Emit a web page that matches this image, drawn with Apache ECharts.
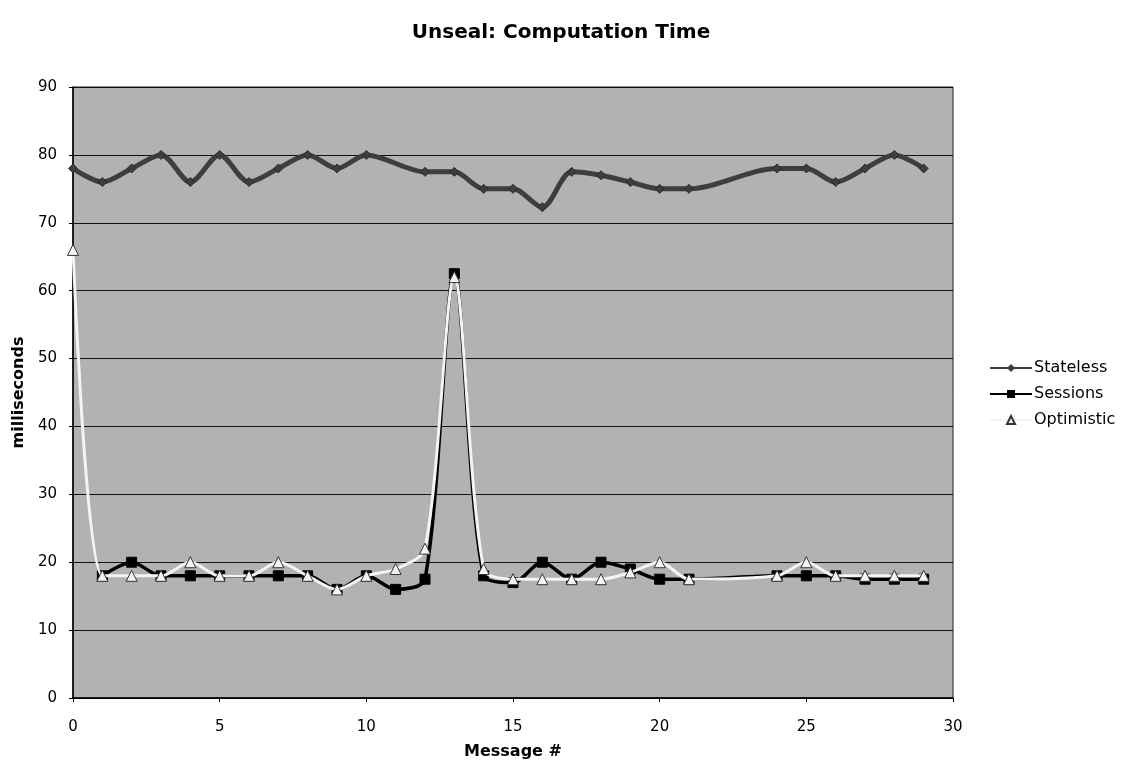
<!DOCTYPE html>
<html lang="en">
<head>
    <meta charset="UTF-8">
    <title>Unseal: Computation Time</title>
    <script src="https://cdn.jsdelivr.net/npm/echarts@6/dist/echarts.min.js"></script>
    <style>
        html, body { margin: 0; padding: 0; background: #fff; }
        #chart { width: 1122px; height: 769px; }
    </style>
</head>
<body>
<div id="chart"></div>
<script>
    // message numbers
    var messages = [0, 1, 2, 3, 4, 5, 6, 7, 8, 9, 10, 11, 12, 13, 14, 15, 16, 17, 18, 19, 20, 21, 22, 23, 24, 25, 26, 27, 28, 29];
    // milliseconds, null = no measurement
    var stateless  = [78, 76, 78, 80, 76, 80, 76, 78, 80, 78, 80, null, 77.5, 77.5, 75, 75, 72.3, 77.5, 77, 76, 75, 75, null, null, 78, 78, 76, 78, 80, 78];
    var sessions   = [null, 18, 20, 18, 18, 18, 18, 18, 18, 16, 18, 16, 17.5, 62.5, 18, 17, 20, 17.5, 20, 19, 17.5, 17.5, null, null, 18, 18, 18, 17.5, 17.5, 17.5];
    var optimistic = [66, 18, 18, 18, 20, 18, 18, 20, 18, 16, 18, 19, 22, 62, 19, 17.5, 17.5, 17.5, 17.5, 18.5, 20, 17.5, null, null, 18, 20, 18, 18, 18, 18];
    var seriesNames = ['Stateless', 'Sessions', 'Optimistic'];

    function pairs(values) {
        var out = [];
        for (var i = 0; i < messages.length; i++) {
            if (values[i] !== null) out.push([messages[i], values[i]]);
        }
        return out;
    }

    var font = 'DejaVu Sans';
    var myChart = echarts.init(document.getElementById('chart'));

    var option = {
        animation: false,
        backgroundColor: '#fff',
        title: {
            text: 'Unseal: Computation Time',
            left: 'center',
            top: 18,
            textStyle: { fontFamily: font, fontSize: 20, fontWeight: 'bold', color: '#000' }
        },
        legend: {
            orient: 'vertical',
            left: 984,
            top: 355,
            itemGap: 10,
            itemWidth: 42,
            itemHeight: 10,
            data: seriesNames,
            textStyle: { fontFamily: font, fontSize: 16, color: '#000', padding: [0, 0, 0, -3] }
        },
        grid: {
            left: 73,
            right: 169,
            top: 87,
            bottom: 71,
            show: true,
            backgroundColor: '#b2b2b2',
            borderColor: '#222',
            borderWidth: 1
        },
        xAxis: {
            type: 'value',
            min: 0,
            max: 30,
            interval: 5,
            name: 'Message #',
            nameLocation: 'middle',
            nameGap: 46,
            nameTextStyle: { fontFamily: font, fontSize: 16, fontWeight: 'bold', color: '#000' },
            axisLine: { show: true, lineStyle: { color: '#000', width: 1.5 } },
            axisTick: { show: true, length: 4, lineStyle: { color: '#000' } },
            axisLabel: { fontFamily: font, fontSize: 15, color: '#000', margin: 22 },
            splitLine: { show: false }
        },
        yAxis: {
            type: 'value',
            min: 0,
            max: 90,
            interval: 10,
            name: 'milliseconds',
            nameLocation: 'middle',
            nameGap: 45,
            nameTextStyle: { fontFamily: font, fontSize: 16, fontWeight: 'bold', color: '#000' },
            axisLine: { show: true, lineStyle: { color: '#000', width: 1.5 } },
            axisTick: { show: true, length: 4, lineStyle: { color: '#000' } },
            axisLabel: { fontFamily: font, fontSize: 15, color: '#000', margin: 16 },
            splitLine: { show: true, lineStyle: { color: '#111', width: 1 } }
        },
        series: [{
            name: 'Stateless',
            type: 'line',
            smooth: 0.3,
            connectNulls: true,
            data: pairs(stateless),
            symbol: 'diamond',
            symbolSize: 9,
            itemStyle: { color: '#3e3e3e', borderColor: '#2a2a2a' },
            lineStyle: { color: '#3e3e3e', width: 5 },
            z: 3
        }, {
            name: 'Sessions',
            type: 'line',
            smooth: 0.3,
            connectNulls: true,
            data: pairs(sessions),
            symbol: 'rect',
            symbolSize: 10,
            itemStyle: { color: '#000', borderColor: '#000' },
            lineStyle: { color: '#000', width: 3.5 },
            z: 3
        }, {
            name: 'Optimistic',
            type: 'line',
            smooth: 0.3,
            connectNulls: true,
            data: pairs(optimistic),
            symbol: 'triangle',
            symbolSize: 11,
            itemStyle: { color: '#f4f4f4', borderColor: '#333', borderWidth: 1 },
            lineStyle: { color: '#f4f4f4', width: 3 },
            z: 4
        }]
    };

    myChart.setOption(option);
</script>
</body>
</html>
